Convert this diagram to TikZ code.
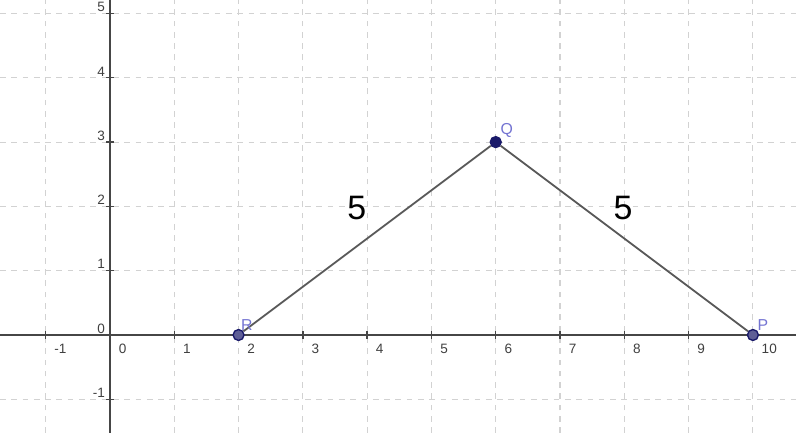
\documentclass[tikz,border=0pt]{standalone}
\usepackage{fontspec}
\setmainfont{Liberation Sans}
\usetikzlibrary{positioning}
\definecolor{gridgray}{RGB}{210,210,210}
\definecolor{axisgray}{RGB}{70,70,70}
\definecolor{ptblue}{RGB}{25,25,105}
\definecolor{lblblue}{RGB}{115,115,210}
\tikzset{
  gridline/.style={gridgray, dash pattern=on 2.5pt off 2.5pt, line width=0.5pt},
  axisline/.style={axisgray, line width=0.9pt},
  ticklabel/.style={font=\fontsize{6}{7}\selectfont, text=black!75, inner sep=0pt},
  ptdot/.style={circle, draw=ptblue, fill=ptblue!70, line width=0.6pt,
    minimum size=1.7mm, inner sep=0pt},
  ptname/.style={font=\fontsize{7}{8}\selectfont, text=lblblue, inner sep=0pt},
  sideline/.style={black!65, line width=0.8pt},
  sidelabel/.style={font=\fontsize{15}{17}\selectfont, inner sep=0pt},
}

\begin{document}
\begin{tikzpicture}
  \useasboundingbox[fill=white] (-1.71,-1.524) rectangle (10.67,5.21);
  % Gitter
  \foreach \x in {-1,...,10}
    \draw[gridline] (\x,-1.524) -- (\x,5.21);
  \foreach \y in {-1,...,5}
    \draw[gridline] (-1.71,\y) -- (10.67,\y);
  % Achsen
  \draw[axisline] (-1.71,0) -- (10.67,0);
  \draw[axisline] (0,-1.524) -- (0,5.21);
  \foreach \x in {-1,...,10}{
    \draw[axisline, line width=0.6pt] (\x,-0.06) -- (\x,0.06);
    \node[ticklabel, anchor=north west] (tx\x) at (\x+0.13,-0.14) {\x};
  }
  \foreach \y in {-1,...,5}{
    \draw[axisline, line width=0.6pt] (-0.06,\y) -- (0.06,\y);
    \node[ticklabel, anchor=south east] (ty\y) at (-0.07,\y+0.02) {\y};
  }
  % Dreieck
  \node[ptdot] (R) at (2,0) {};
  \node[ptdot, fill=ptblue] (Q) at (6,3) {};
  \node[ptdot] (P) at (10,0) {};
  \draw[sideline] (R) -- (Q);
  \draw[sideline] (Q) -- (P);
  \node[ptname, above right=0pt and -1pt of R] (Rname) {R};
  \node[ptname, above right=0pt and 0pt of Q] (Qname) {Q};
  \node[ptname, above right=0pt and 0pt of P] (Pname) {P};
  \node[sidelabel] (sRQ) at (3.84,1.97) {5};
  \node[sidelabel] (sQP) at (7.98,1.97) {5};
\end{tikzpicture}
\end{document}
